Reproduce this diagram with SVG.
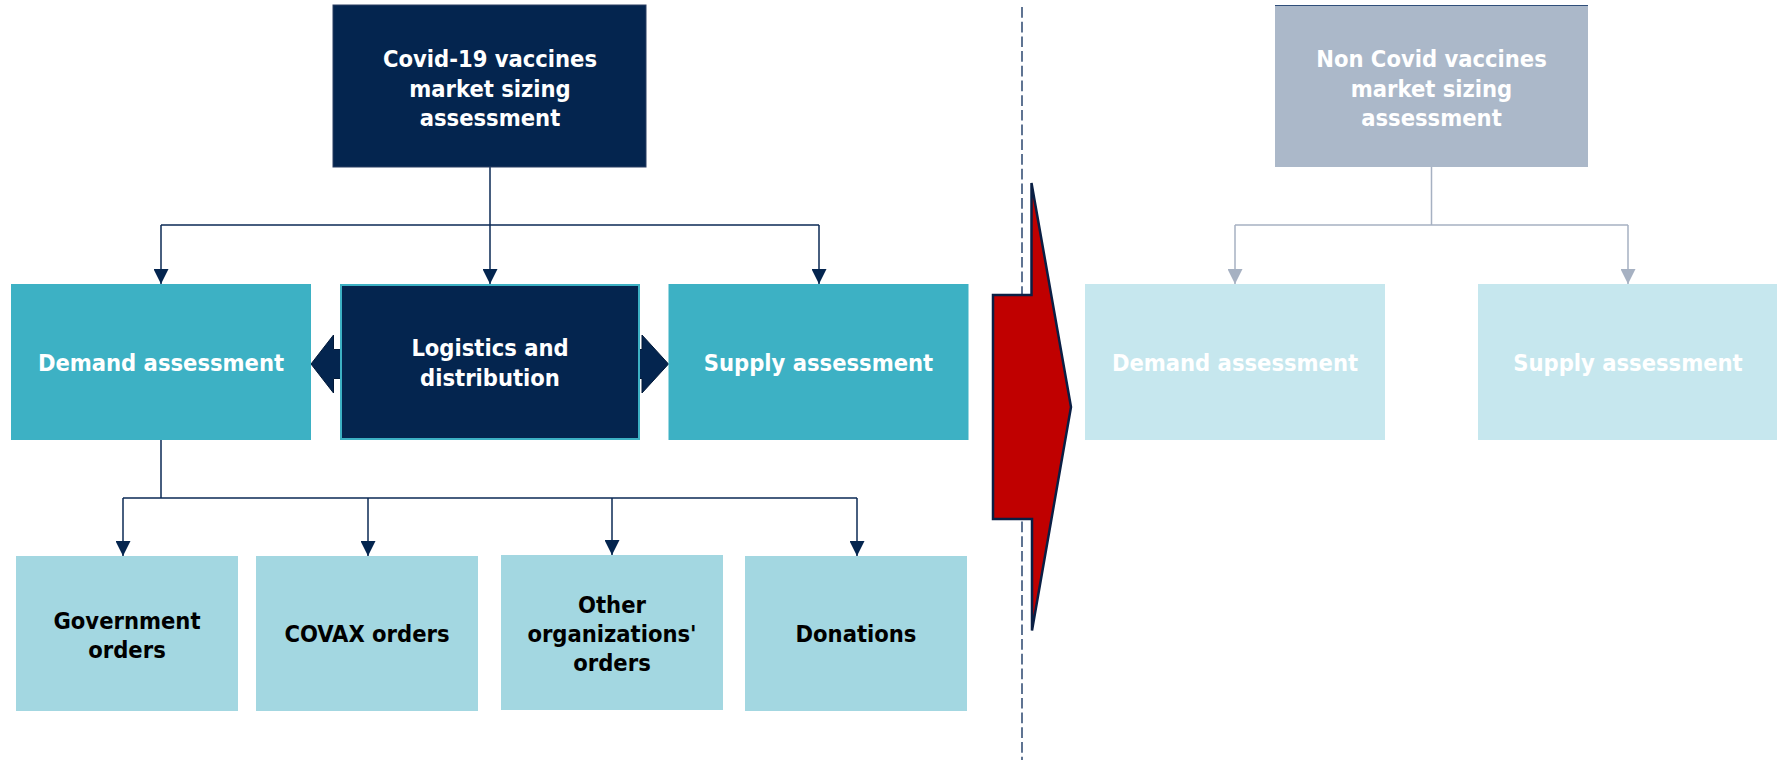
<svg xmlns="http://www.w3.org/2000/svg" width="1777" height="764" viewBox="0 0 1777 764">
<style>
.t{font-family:"DejaVu Sans Condensed","Liberation Sans",sans-serif;font-weight:bold;font-size:23.5px;text-anchor:middle}
.w{fill:#ffffff}
.k{fill:#000000}
.navy{fill:#04254F}
.teal{fill:#3DB1C4}
.lt{fill:#A3D7E1}
.pale{fill:#C6E7EE}
.gray{fill:#ABB8C9}
.cn{fill:none;stroke:#0B2A55;stroke-width:1.5}
.cg{fill:none;stroke:#A6B1C2;stroke-width:1.5}
</style>
<defs>
<marker id="an" viewBox="0 0 15 15" refX="15" refY="7.5" markerWidth="15" markerHeight="15" markerUnits="userSpaceOnUse" orient="auto">
<path d="M0,0 L15,7.5 L0,15 z" fill="#04254F"/>
</marker>
<marker id="ag" viewBox="0 0 15 15" refX="15" refY="7.5" markerWidth="15" markerHeight="15" markerUnits="userSpaceOnUse" orient="auto">
<path d="M0,0 L15,7.5 L0,15 z" fill="#A6B1C2"/>
</marker>
</defs>
<rect width="1777" height="764" fill="#ffffff"/>

<g id="divider">
<line x1="1022" y1="7" x2="1022" y2="760" stroke="#4E6587" stroke-width="1.8" stroke-dasharray="10.7 4"/>
<path d="M1031.5,183 L1071,407 L1032,630.5 L1032,519 L993,519 L993,295 L1031.5,295 Z" fill="#C00000" stroke="#0A1F44" stroke-width="2.5" stroke-linejoin="miter"/>
</g>

<g id="connectors">
<path class="cn" d="M490,167 V225 M161,225 H819" />
<path class="cn" d="M161,225 V284" marker-end="url(#an)"/>
<path class="cn" d="M490,225 V284" marker-end="url(#an)"/>
<path class="cn" d="M819,225 V284" marker-end="url(#an)"/>
<path class="cn" d="M161,440 V498 M123,498 H857"/>
<path class="cn" d="M123,498 V556" marker-end="url(#an)"/>
<path class="cn" d="M368,498 V556" marker-end="url(#an)"/>
<path class="cn" d="M612,498 V555" marker-end="url(#an)"/>
<path class="cn" d="M857,498 V556" marker-end="url(#an)"/>
<path class="cg" d="M1431.5,167 V225 M1235,225 H1628"/>
<path class="cg" d="M1235,225 V284" marker-end="url(#ag)"/>
<path class="cg" d="M1628,225 V284" marker-end="url(#ag)"/>
<path id="link-double" d="M311,364 L333.5,335 L333.5,349.5 L642,349.5 L642,335 L668.5,364 L642,393 L642,378.5 L333.5,378.5 L333.5,393 Z" fill="#04254F" stroke="#021A3A" stroke-width="1"/>
</g>

<g id="covid">
<rect class="navy" x="333" y="5" width="313" height="162" stroke="#2B3F63" stroke-width="1"/>
<text class="t w" x="490" y="67">Covid-19 vaccines</text>
<text class="t w" x="490" y="97">market sizing</text>
<text class="t w" x="490" y="126">assessment</text>
</g>

<g id="demand">
<rect class="teal" x="11" y="284" width="300" height="156"/>
<text class="t w" x="161" y="371">Demand assessment</text>
</g>

<g id="logistics">
<rect class="navy" x="341" y="285" width="298" height="154" stroke="#3DB1C4" stroke-width="2"/>
<text class="t w" x="490" y="356">Logistics and</text>
<text class="t w" x="490" y="386">distribution</text>
</g>

<g id="supply">
<rect class="teal" x="668.5" y="284" width="300" height="156"/>
<text class="t w" x="818.5" y="371">Supply assessment</text>
</g>

<g id="government">
<rect class="lt" x="16" y="556" width="222" height="155"/>
<text class="t k" x="127" y="629">Government</text>
<text class="t k" x="127" y="658">orders</text>
</g>

<g id="covax">
<rect class="lt" x="256" y="556" width="222" height="155"/>
<text class="t k" x="367" y="642">COVAX orders</text>
</g>

<g id="other">
<rect class="lt" x="501" y="555" width="222" height="155"/>
<text class="t k" x="612" y="613">Other</text>
<text class="t k" x="612" y="642">organizations'</text>
<text class="t k" x="612" y="671">orders</text>
</g>

<g id="donations">
<rect class="lt" x="745" y="556" width="222" height="155"/>
<text class="t k" x="856" y="642">Donations</text>
</g>

<g id="noncovid">
<rect class="gray" x="1275" y="5" width="313" height="162"/>
<line x1="1275" y1="5.5" x2="1588" y2="5.5" stroke="#2F4E7A" stroke-width="1"/>
<text class="t w" x="1431.5" y="67">Non Covid vaccines</text>
<text class="t w" x="1431.5" y="97">market sizing</text>
<text class="t w" x="1431.5" y="126">assessment</text>
</g>

<g id="demand2">
<rect class="pale" x="1085" y="284" width="300" height="156"/>
<text class="t w" x="1235" y="371">Demand assessment</text>
</g>

<g id="supply2">
<rect class="pale" x="1478" y="284" width="300" height="156"/>
<text class="t w" x="1628" y="371">Supply assessment</text>
</g>
</svg>
